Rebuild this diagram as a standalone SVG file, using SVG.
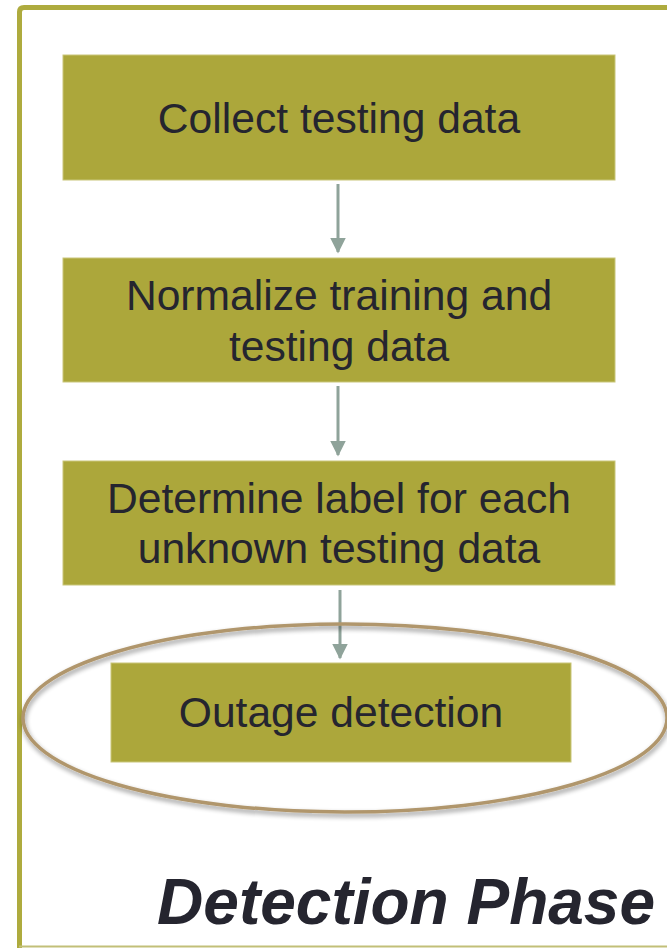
<svg xmlns="http://www.w3.org/2000/svg" width="667" height="948" viewBox="0 0 667 948">
  <defs>
    <style>
      .step { fill: #aca73b; stroke: #c9c67a; stroke-width: 1; }
      .label { font-family: "Liberation Sans", Arial, sans-serif; font-size: 42.6px; fill: #25252f; text-anchor: middle; }
      .title { font-family: "Liberation Sans", Arial, sans-serif; font-size: 64px; font-weight: bold; font-style: italic; fill: #25252f; text-anchor: end; }
      .link { stroke: #8fa39a; stroke-width: 3; fill: none; marker-end: url(#head); }
    </style>
    <marker id="head" viewBox="0 0 10 10" refX="9" refY="5" markerWidth="5.2" markerHeight="5.2" markerUnits="strokeWidth" orient="auto">
      <path d="M0,0 L10,5 L0,10 z" fill="#8fa39a"/>
    </marker>
    <filter id="shade" x="-10%" y="-20%" width="120%" height="140%">
      <feGaussianBlur in="SourceAlpha" stdDeviation="2.5"/>
      <feOffset dx="1" dy="3" result="b"/>
      <feComponentTransfer><feFuncA type="linear" slope="0.45"/></feComponentTransfer>
      <feMerge><feMergeNode/><feMergeNode in="SourceGraphic"/></feMerge>
    </filter>
  </defs>

  <rect width="667" height="948" fill="#ffffff"/>

  <!-- phase frame -->
  <g id="frame">
    <path d="M19.5,948 L19.5,12 Q19.5,7.5 24,7.5 L680,7.5" fill="none" stroke="#aeab3e" stroke-width="5"/>
    <line x1="19" y1="946.5" x2="667" y2="946.5" stroke="#c2bf78" stroke-width="2"/>
  </g>

  <g id="collect">
    <rect class="step" x="63" y="55" width="552" height="125"/>
    <text class="label" x="339" y="133">Collect testing data</text>
  </g>

  <g id="normalize">
    <rect class="step" x="63" y="258" width="552" height="124"/>
    <text class="label" x="339" y="310">Normalize training and</text>
    <text class="label" x="339" y="361">testing data</text>
  </g>

  <g id="determine">
    <rect class="step" x="63" y="461" width="552" height="124"/>
    <text class="label" x="339" y="513">Determine label for each</text>
    <text class="label" x="339" y="563">unknown testing data</text>
  </g>

  <g id="outage">
    <rect class="step" x="111" y="663" width="460" height="99"/>
    <text class="label" x="341" y="727">Outage detection</text>
  </g>

  <g id="connectors">
    <line class="link" x1="338" y1="184" x2="338" y2="252"/>
    <line class="link" x1="338" y1="386" x2="338" y2="455"/>
    <line class="link" x1="340" y1="590" x2="340" y2="658"/>
  </g>

  <!-- highlight ring around the final step -->
  <g id="highlight">
    <ellipse cx="345" cy="718" rx="322" ry="94" fill="none" stroke="#b0966c" stroke-width="3.5" filter="url(#shade)"/>
  </g>

  <g id="phase-title">
    <text class="title" x="655" y="924">Detection Phase</text>
  </g>
</svg>
